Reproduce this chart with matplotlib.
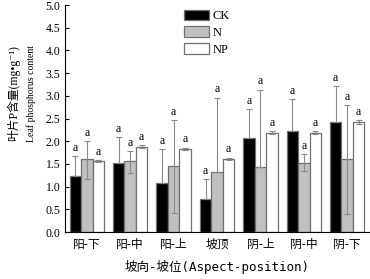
import numpy as np
import matplotlib.pyplot as plt

plt.rcParams['font.family'] = ['Liberation Serif', 'Noto Sans CJK SC', 'DejaVu Serif']

sites = ['阳-下', '阳-中', '阳-上', '坡顶', '阴-上', '阴-中', '阴-下']
ck = [1.24, 1.53, 1.09, 0.72, 2.07, 2.22, 2.42]
ck_err = [0.44, 0.56, 0.74, 0.45, 0.64, 0.71, 0.80]
n = [1.60, 1.56, 1.45, 1.33, 1.44, 1.53, 1.61]
n_err = [0.41, 0.23, 1.02, 1.63, 1.70, 0.18, 1.19]
n_err_low = [0.42, 0.25, 1.02, 0.0, 0.0, 0.19, 1.20]
np_ = [1.56, 1.88, 1.83, 1.61, 2.19, 2.19, 2.42]
np_err = [0.02, 0.03, 0.03, 0.03, 0.03, 0.03, 0.04]
letters = ['a'] * 7

fig = plt.figure(figsize=(3.70, 2.79), dpi=100)
ax = fig.add_axes([0.176, 0.168, 0.821, 0.814])

x = np.arange(len(sites))
w = 0.265
series = [(ck, [np.zeros(7), ck_err], ck_err, 'black', 'CK'),
          (n, [n_err_low, n_err], n_err, '#c0c0c0', 'N'),
          (np_, np_err, np_err, 'white', 'NP')]
for i, (vals, yerr, up, fc, lab) in enumerate(series):
    xs = x + (i - 1) * w
    ax.bar(xs, vals, w, color=fc, edgecolor='#707070', linewidth=0.9, label=lab, zorder=2)
    ax.errorbar(xs, vals, yerr=yerr, fmt='none', ecolor='#8a8a8a', elinewidth=0.8,
                capsize=2.2, capthick=0.8, zorder=3)
    for xi, v, e, t in zip(xs, vals, up, letters):
        ax.text(xi, v + e + 0.05, t, ha='center', va='bottom', fontsize=8.5)

ax.set_xlim(-0.5, 6.5)
ax.set_ylim(0, 5)
ax.set_yticks(np.arange(0, 5.01, 0.5))
ax.yaxis.set_major_formatter(plt.FormatStrFormatter('%.1f'))
ax.set_xticks(x)
ax.set_xticklabels(sites, family=['Noto Sans CJK SC'], fontsize=9)
ax.tick_params(direction='in', length=3, width=0.8, labelsize=8.5)
ax.tick_params(axis='x', pad=4)
for s in ['top', 'right']:
    ax.spines[s].set_visible(False)
for s in ['left', 'bottom']:
    ax.spines[s].set_linewidth(0.8)

ax.set_xlabel('坡向-坡位(Aspect-position)', family=['DejaVu Sans Mono', 'Noto Sans CJK SC'],
              fontsize=9, labelpad=7)
fig.text(0.035, 0.665, '叶片P含量(mg•g⁻¹)', rotation=90, ha='center', va='center', fontsize=8.5)
fig.text(0.084, 0.665, 'Leaf phosphorus content', rotation=90, ha='center', va='center', fontsize=7)

ax.legend(loc='upper left', bbox_to_anchor=(0.39, 0.98), frameon=False, fontsize=9,
          handlelength=2.0, handleheight=0.9, labelspacing=0.35, handletextpad=0.3,
          borderaxespad=0, borderpad=0)

fig.savefig('out.png', dpi=100)
